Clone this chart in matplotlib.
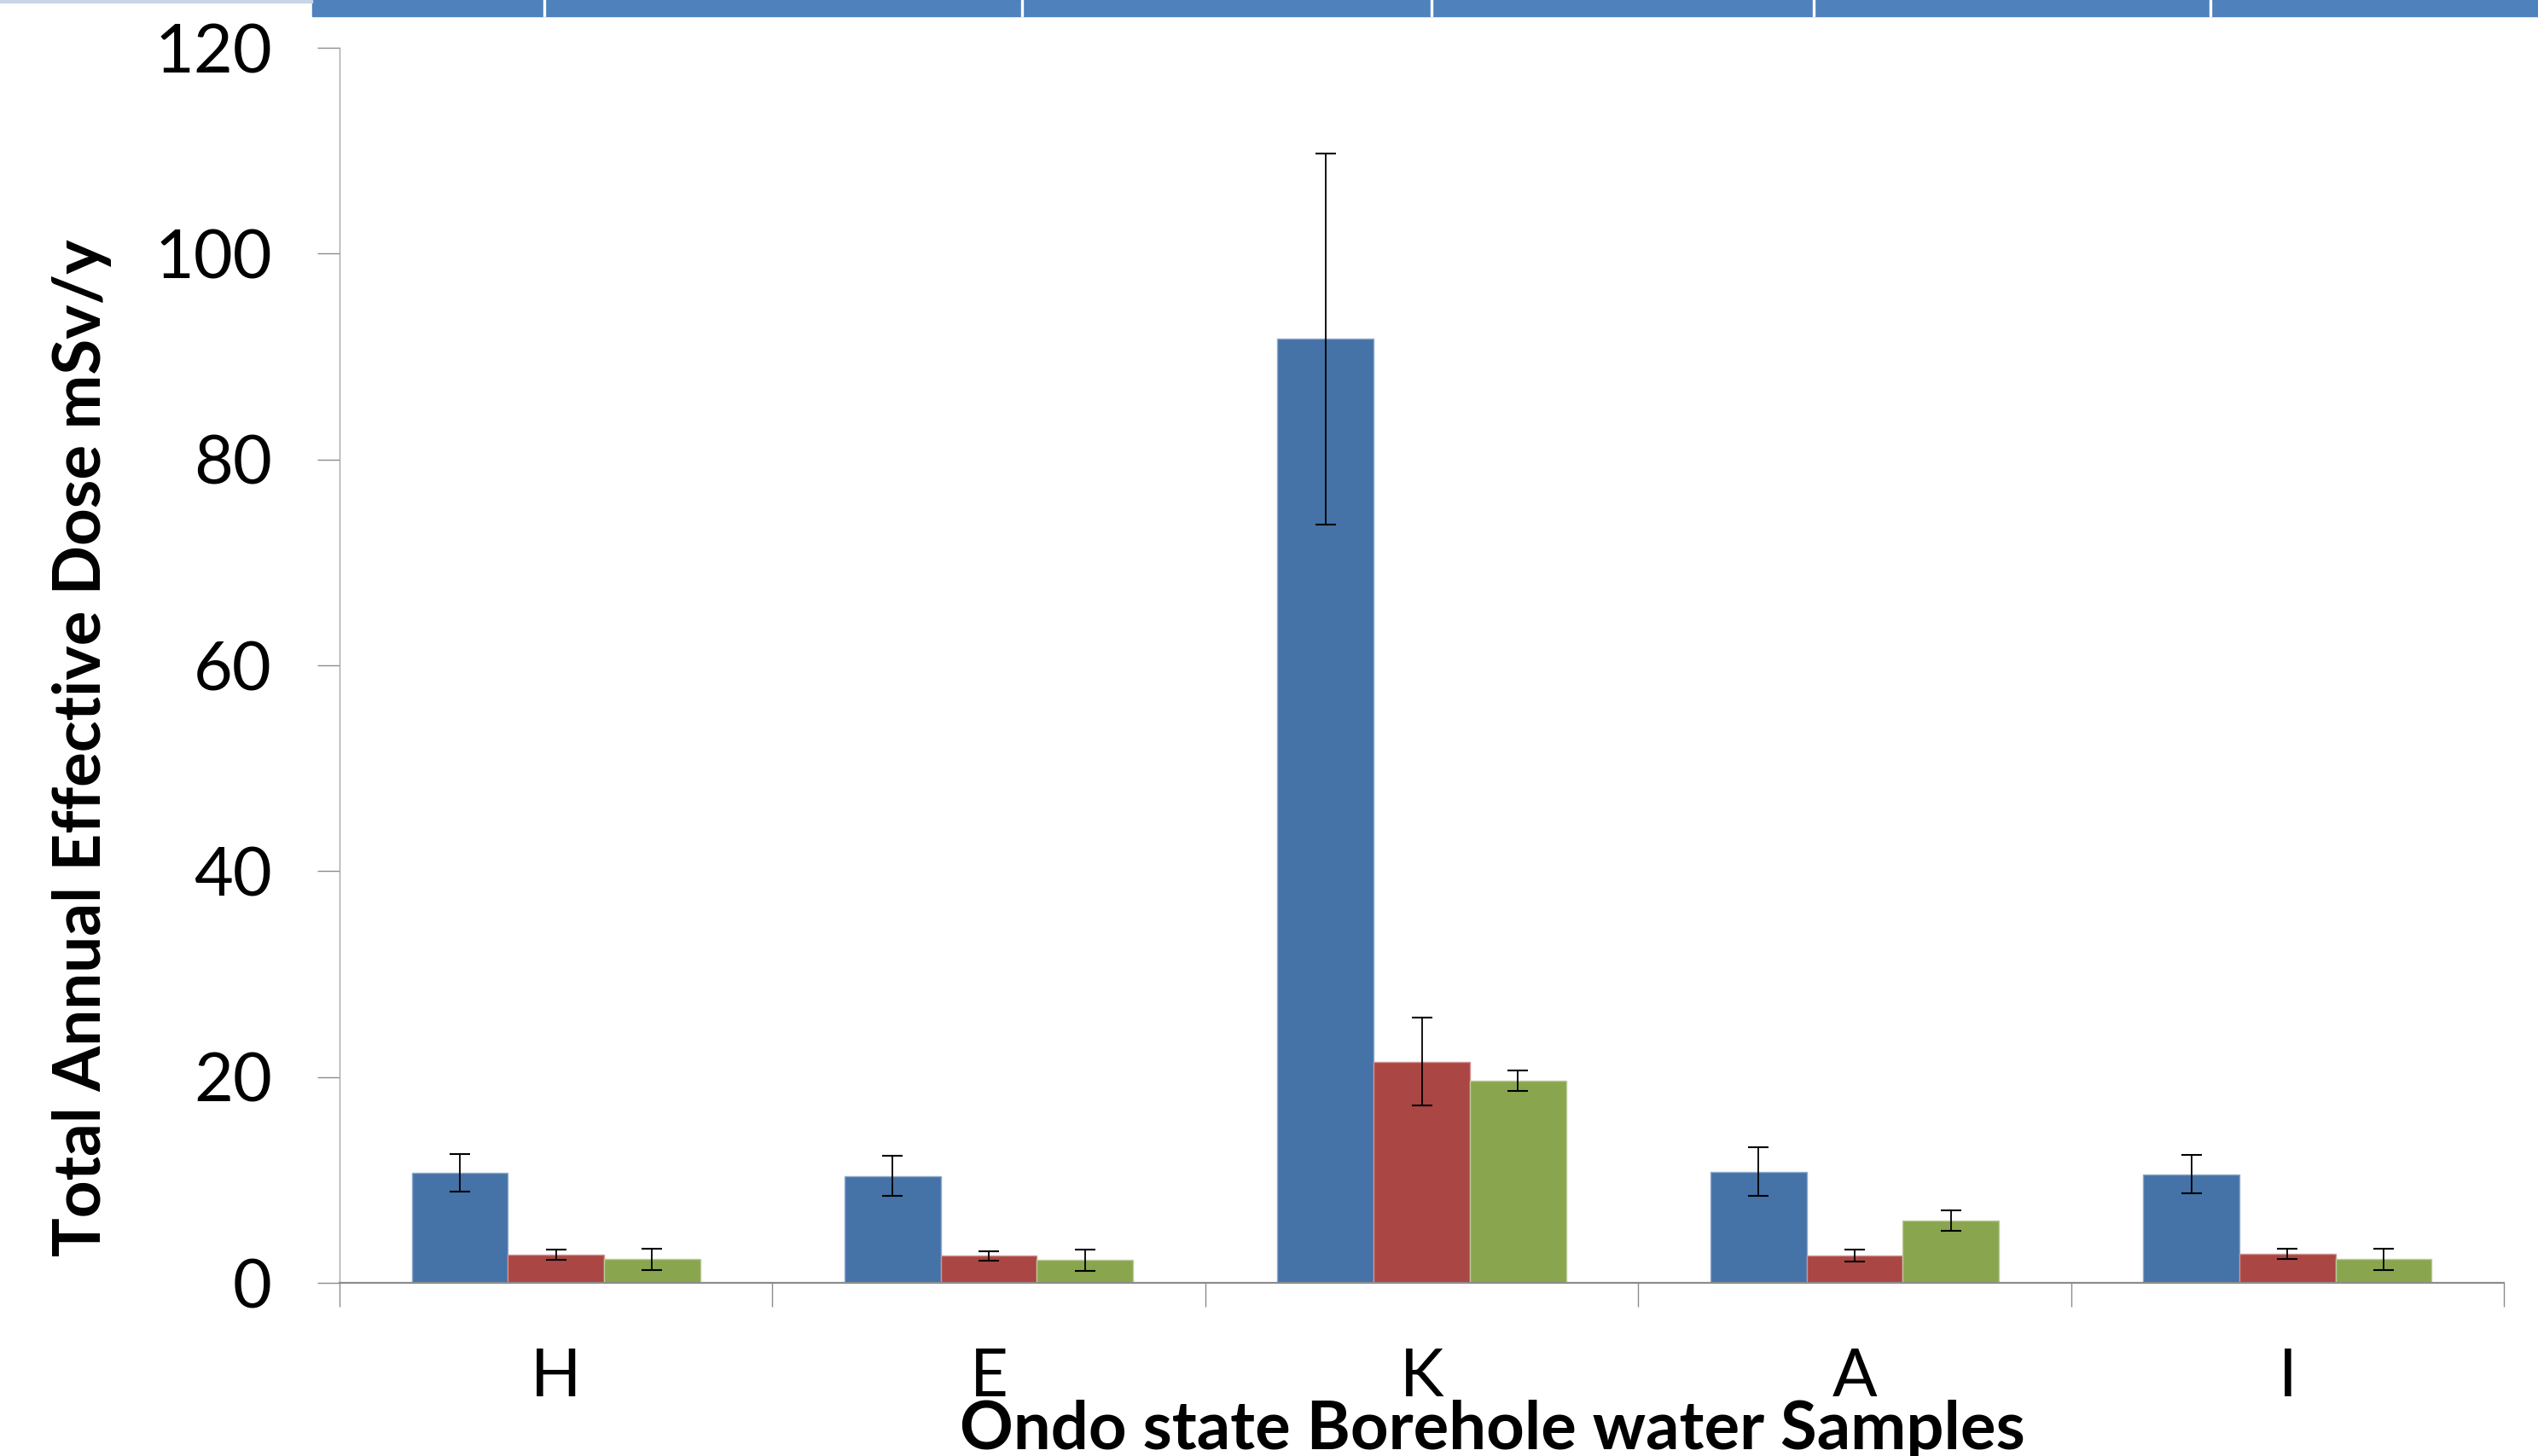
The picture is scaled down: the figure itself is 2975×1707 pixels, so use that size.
import numpy as np
import matplotlib
matplotlib.use("Agg")
import matplotlib.pyplot as plt
from matplotlib.patches import Rectangle

plt.rcParams['font.family'] = ['Lato', 'DejaVu Sans']

# data
samples = ['H', 'E', 'K', 'A', 'I']
blue_vals = [10.7, 10.4, 91.7, 10.8, 10.55]
blue_err = [1.8, 1.95, 18.0, 2.35, 1.85]
red_vals = [2.72, 2.62, 21.5, 2.65, 2.79]
red_err = [0.5, 0.48, 4.3, 0.6, 0.51]
green_vals = [2.3, 2.21, 19.65, 6.05, 2.29]
green_err = [1.04, 1.05, 1.0, 1.01, 1.04]
yticks = [0, 20, 40, 60, 80, 100, 120]

series = [
    (blue_vals, blue_err, '#4572A7', '#8fa9cc'),
    (red_vals, red_err, '#AA4643', '#d19391'),
    (green_vals, green_err, '#89A54E', '#bccb9b'),
]

W, H = 2975, 1707
fig = plt.figure(figsize=(W / 100, H / 100), dpi=100)
ax = fig.add_axes([398 / W, 1 - 1504 / H, (2935 - 398) / W, (1504 - 56) / H])

x = np.arange(len(samples))
bw = 1 / 4.5  # Excel gap width 150%
for i, (vals, err, col, edge) in enumerate(series):
    pos = x + (i - 1) * bw
    ax.bar(pos, vals, width=bw, color=col, edgecolor=edge, linewidth=1.0, zorder=2)
    ax.errorbar(pos, vals, yerr=err, fmt='none', ecolor='black', elinewidth=1.3,
                capsize=8.5, capthick=1.5, zorder=3)

ax.set_xlim(-0.5, len(samples) - 0.5)
ax.set_ylim(0, 120)
ax.set_yticks(yticks)
ax.set_yticklabels([str(v) for v in yticks])

# category labels centred, tick marks between categories
ax.set_xticks(np.arange(-0.5, len(samples), 1.0))
ax.set_xticklabels([])
ax.set_xticks(x, minor=True)
ax.set_xticklabels(samples, minor=True)
ax.tick_params(axis='x', which='major', direction='out', length=20, width=1.0, color='#8c8c8c')
ax.tick_params(axis='x', which='minor', length=0, pad=55, labelsize=56)
ax.tick_params(axis='y', direction='out', length=19, width=1.0, color='#8c8c8c', pad=38, labelsize=57)

for s in ['top', 'right']:
    ax.spines[s].set_visible(False)
ax.spines['left'].set_color('#a6a6a6')
ax.spines['left'].set_linewidth(1.0)
ax.spines['bottom'].set_color('#8c8c8c')
ax.spines['bottom'].set_linewidth(1.6)

fig.text(1749 / W, 1 - 1699 / H, 'Ondo state Borehole water Samples', ha='center',
         va='baseline', fontsize=56, fontweight='bold')
fig.text(96 / W, 1 - 877 / H, 'Total Annual Effective Dose mSv/y', rotation=90,
         ha='center', va='center', fontsize=55, fontweight='bold')

# slide header band along the top edge
fig.patches.append(Rectangle((366 / W, 1 - 19 / H), 1 - 366 / W, 19 / H,
                             transform=fig.transFigure, color='#4F81BD', zorder=0))
fig.patches.append(Rectangle((0, 1 - 3 / H), 366 / W, 3 / H,
                             transform=fig.transFigure, color='#c8d5e8', zorder=0))
for sx in [637, 1197, 1677, 2125, 2590]:
    fig.patches.append(Rectangle((sx / W, 1 - 19 / H), 2 / W, 19 / H,
                                 transform=fig.transFigure, color='white', zorder=1))

fig.savefig('out.png', dpi=100)
